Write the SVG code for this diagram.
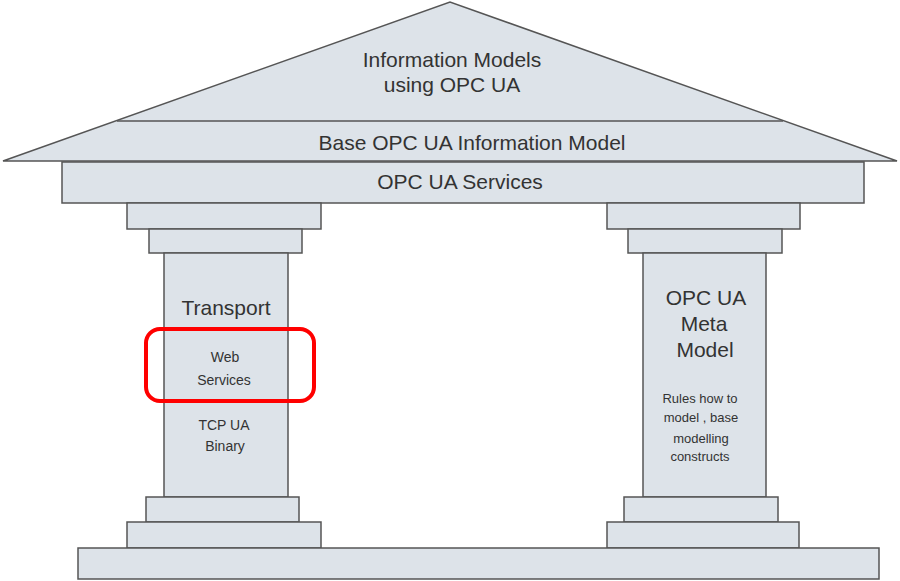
<svg xmlns="http://www.w3.org/2000/svg" width="900" height="581" viewBox="0 0 900 581">
<style>
.p{fill:#dde3e9;stroke:#555;stroke-width:1.5}
.t{font-family:"Liberation Sans",Arial,sans-serif;fill:#333;text-anchor:middle}
.L{font-size:21px}
.s{font-size:14px}
.r{font-size:13px}
</style>
<rect width="900" height="581" fill="#fff"/>
<g id="roof">
<polygon class="p" points="3,161 450,2 897,161"/>
<line x1="117" y1="121" x2="783" y2="121" stroke="#555" stroke-width="1.5"/>
<text class="t L" x="452" y="67">Information Models</text>
<text class="t L" x="452" y="92">using OPC UA</text>
<text class="t L" x="472" y="150">Base OPC UA Information Model</text>
</g>
<g id="services">
<rect class="p" x="62" y="162" width="802" height="41"/>
<text class="t L" x="460" y="189">OPC UA Services</text>
</g>
<g id="left-pillar">
<rect class="p" x="127" y="203" width="194" height="26"/>
<rect class="p" x="149" y="229" width="153" height="24"/>
<rect class="p" x="164" y="253" width="124" height="244"/>
<rect class="p" x="146" y="497" width="153" height="25"/>
<rect class="p" x="127" y="522" width="194" height="26"/>
<text class="t L" x="226" y="315">Transport</text>
<text class="t s" x="225" y="362">Web</text>
<text class="t s" x="224" y="385">Services</text>
<text class="t s" x="224" y="430">TCP UA</text>
<text class="t s" x="225" y="451">Binary</text>
</g>
<g id="right-pillar">
<rect class="p" x="607" y="203" width="193" height="26"/>
<rect class="p" x="628" y="229" width="154" height="24"/>
<rect class="p" x="643" y="253" width="123" height="244"/>
<rect class="p" x="624" y="497" width="154" height="25"/>
<rect class="p" x="607" y="522" width="192" height="26"/>
<text class="t L" x="706" y="305">OPC UA</text>
<text class="t L" x="704" y="331">Meta</text>
<text class="t L" x="705" y="357">Model</text>
<text class="t r" x="700" y="403">Rules how to</text>
<text class="t r" x="701" y="422">model , base</text>
<text class="t r" x="701" y="443">modelling</text>
<text class="t r" x="700" y="461">constructs</text>
</g>
<g id="plinth">
<rect class="p" x="78" y="548" width="801" height="31"/>
</g>
<g id="highlight">
<rect x="146" y="329" width="168" height="72" rx="14" fill="none" stroke="#f00" stroke-width="4"/>
</g>
</svg>
